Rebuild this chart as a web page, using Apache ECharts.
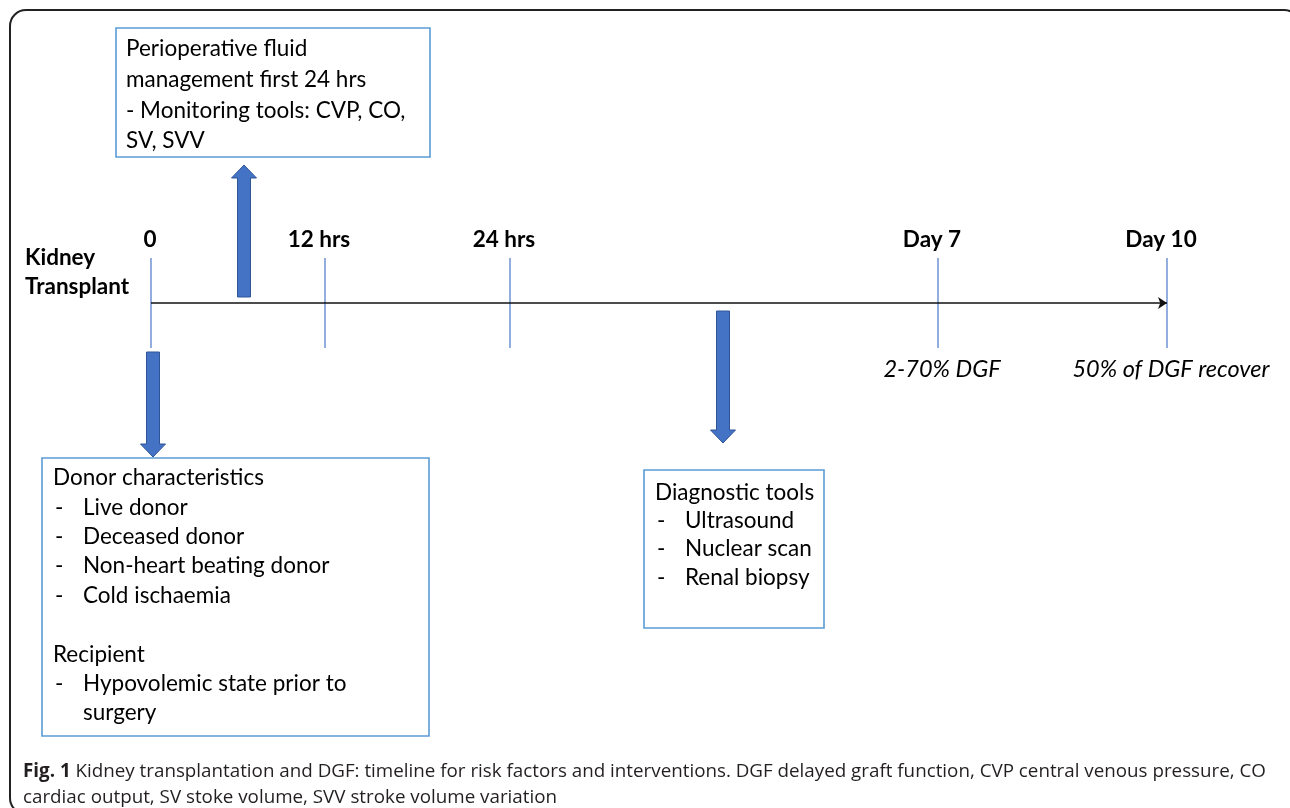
<!DOCTYPE html>
<html>
<head>
<meta charset="utf-8">
<title>Kidney transplantation and DGF timeline</title>
<script src="https://cdn.jsdelivr.net/npm/echarts@6/dist/echarts.min.js"></script>
<style>
    html, body { margin: 0; padding: 0; background: #fff; }
    #chart { width: 1290px; height: 808px; }
</style>
</head>
<body>
<div id="chart"></div>
<script>
// 时间轴刻度（图上坐标单位）
const tickPos = [151, 325, 510, 938, 1167];
const tickLabels = ['0', '12 hrs', '24 hrs', 'Day 7', 'Day 10'];
const tickNotes = ['', '', '', '2-70% DGF', '50% of DGF recover'];

// 箭头：x 位置、起点、终点
const arrowX = [244, 153, 723];
const arrowFrom = [297, 352, 311];
const arrowTo = [165, 457, 443];

// 文本框：左、上、右、下 以及文字行（\t 表示缩进项）
const boxLeft = [116, 42, 644];
const boxTop = [28, 458, 470];
const boxRight = [430, 429, 824];
const boxBottom = [157, 736, 628];
const boxLines = [
    ['Perioperative fluid', 'management first 24 hrs', '- Monitoring tools: CVP, CO,', 'SV, SVV'],
    ['Donor characteristics', '-\tLive donor', '-\tDeceased donor', '-\tNon-heart beating donor', '-\tCold ischaemia', '',
     'Recipient', '-\tHypovolemic state prior to', '\tsurgery'],
    ['Diagnostic tools', '-\tUltrasound', '-\tNuclear scan', '-\tRenal biopsy']
];

const captionLines = [
    'Kidney transplantation and DGF: timeline for risk factors and interventions. DGF delayed graft function, CVP central venous pressure, CO',
    'cardiac output, SV stoke volume, SVV stroke volume variation'
];

const FONT = 'Lato, "Open Sans", sans-serif';
const BLUE_LINE = '#4a78c8';
const ARROW_FILL = '#4472c4';
const BOX_LINE = '#5b9bd5';

document.addEventListener('DOMContentLoaded', function() {
    initDiagram();
});

function renderTick(params, api) {
    const i = params.dataIndex;
    const x = api.value(0);
    const top = api.coord([x, 258]);
    const bottom = api.coord([x, 348]);
    const labelPt = api.coord([x, 240]);
    const notePt = api.coord([x, 369]);
    const children = [
        {
            type: 'line',
            shape: { x1: top[0], y1: top[1], x2: bottom[0], y2: bottom[1] },
            style: { stroke: BLUE_LINE, lineWidth: 1.2 }
        },
        {
            type: 'text',
            style: {
                x: labelPt[0] - (i === 0 ? 1 : 6), y: labelPt[1], text: tickLabels[i],
                font: 'bold 22.5px ' + FONT, fill: '#000',
                align: 'center', verticalAlign: 'middle'
            }
        }
    ];
    if (tickNotes[i]) {
        children.push({
            type: 'text',
            style: {
                x: notePt[0] + 4, y: notePt[1], text: tickNotes[i],
                font: 'italic 23.5px ' + FONT, fill: '#000',
                align: 'center', verticalAlign: 'middle'
            }
        });
    }
    return { type: 'group', children: children };
}

function renderArrow(params, api) {
    const tail = api.coord([api.value(0), api.value(1)]);
    const tip = api.coord([api.value(0), api.value(2)]);
    const d = tip[1] > tail[1] ? 1 : -1;
    const hw = 6.5, hh = 12.5, hl = 13;
    const cx = tail[0];
    const base = tip[1] - d * hl;
    return {
        type: 'polygon',
        shape: {
            points: [
                [cx - hw, tail[1]], [cx + hw, tail[1]], [cx + hw, base], [cx + hh, base],
                [cx, tip[1]], [cx - hh, base], [cx - hw, base]
            ]
        },
        style: { fill: ARROW_FILL, stroke: '#2f5597', lineWidth: 1 }
    };
}

function renderBox(params, api) {
    const i = params.dataIndex;
    const p0 = api.coord([api.value(0), api.value(1)]);
    const p1 = api.coord([api.value(2), api.value(3)]);
    const lines = boxLines[i];
    const lineGap = i === 0 ? 30.7 : (i === 1 ? 29.4 : 28.3);
    const firstY = p0[1] + (i === 0 ? 21 : (i === 1 ? 20 : 22.5));
    const padX = i === 0 ? 10 : 11;
    const indent = 41;
    const font = '22.5px ' + FONT;
    const children = [{
        type: 'rect',
        shape: { x: p0[0], y: p0[1], width: p1[0] - p0[0], height: p1[1] - p0[1] },
        style: { fill: '#fff', stroke: BOX_LINE, lineWidth: 1.6 }
    }];
    lines.forEach(function(line, k) {
        const y = firstY + k * lineGap;
        const parts = line.split('\t');
        if (parts.length > 1) {
            if (parts[0]) {
                children.push({
                    type: 'text',
                    style: { x: p0[0] + padX + 2, y: y, text: parts[0], font: font,
                        fill: '#000', verticalAlign: 'middle' }
                });
            }
            children.push({
                type: 'text',
                style: { x: p0[0] + indent, y: y, text: parts[1], font: font,
                    fill: '#000', verticalAlign: 'middle' }
            });
        } else if (line) {
            children.push({
                type: 'text',
                style: { x: p0[0] + padX, y: y, text: line, font: font,
                    fill: '#000', verticalAlign: 'middle' }
            });
        }
    });
    return { type: 'group', children: children };
}

function initDiagram() {
    const chart = echarts.init(document.getElementById('chart'));
    const option = {
        backgroundColor: '#fff',
        animation: false,
        title: {
            text: '{b|Fig. 1} ' + captionLines[0] + '\n' + captionLines[1],
            left: 18,
            top: 754,
            textStyle: {
                fontFamily: '"Open Sans", sans-serif',
                fontSize: 18.8,
                fontWeight: 'normal',
                color: '#231f20',
                lineHeight: 26,
                rich: {
                    b: { fontFamily: '"Open Sans", sans-serif', fontSize: 18.8, fontWeight: 'bold',
                        color: '#231f20', lineHeight: 26 }
                }
            }
        },
        graphic: [
            {
                type: 'rect',
                shape: { x: 10, y: 10, width: 1290, height: 804, r: 16 },
                style: { fill: 'none', stroke: '#222', lineWidth: 2 },
                z: 0
            },
            {
                type: 'text',
                style: {
                    x: 25, y: 272, text: 'Kidney\nTransplant',
                    font: 'bold 22.5px ' + FONT, fill: '#000',
                    lineHeight: 29, verticalAlign: 'middle'
                },
                z: 10
            }
        ],
        grid: { left: 0, right: 0, top: 0, bottom: 0 },
        xAxis: { type: 'value', min: 0, max: 1290, show: false },
        yAxis: { type: 'value', min: 0, max: 808, inverse: true, show: false },
        series: [
            {
                type: 'lines',
                coordinateSystem: 'cartesian2d',
                symbol: ['none', 'arrow'],
                symbolSize: 9,
                lineStyle: { color: '#111', width: 1.6, opacity: 1, curveness: 0 },
                data: [{ coords: [[tickPos[0], 303], [tickPos[tickPos.length - 1], 303]] }],
                z: 3
            },
            {
                type: 'custom',
                renderItem: renderTick,
                clip: false,
                data: tickPos.map(function(x) { return [x]; }),
                z: 2
            },
            {
                type: 'custom',
                renderItem: renderArrow,
                clip: false,
                data: arrowX.map(function(x, i) { return [x, arrowFrom[i], arrowTo[i]]; }),
                z: 4
            },
            {
                type: 'custom',
                renderItem: renderBox,
                clip: false,
                data: boxLeft.map(function(x, i) { return [x, boxTop[i], boxRight[i], boxBottom[i]]; }),
                z: 5
            }
        ]
    };
    chart.setOption(option);
}
</script>
</body>
</html>
